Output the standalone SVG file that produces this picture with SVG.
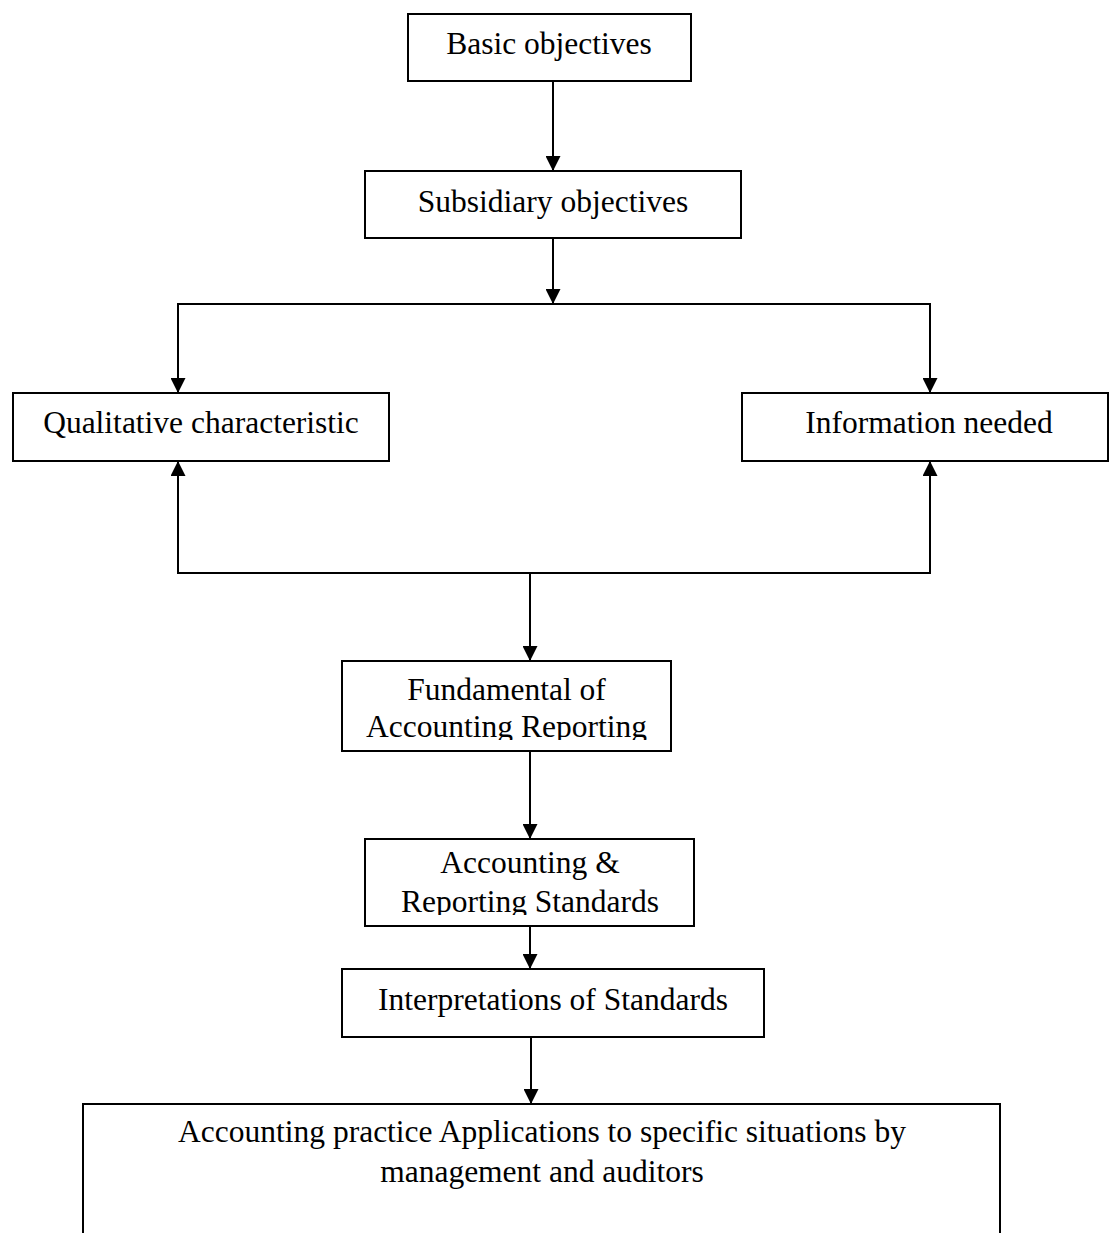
<svg xmlns="http://www.w3.org/2000/svg" width="1110" height="1233" viewBox="0 0 1110 1233">
<style>
.box{fill:#fff;stroke:#000;stroke-width:2}
.t{font-family:"Liberation Serif","Times New Roman",serif;font-size:31.5px;fill:#000;text-anchor:middle}
.c{fill:none;stroke:#000;stroke-width:2}
</style>
<defs>
<marker id="ah" viewBox="0 0 10 10" refX="10" refY="5" markerWidth="15" markerHeight="15" markerUnits="userSpaceOnUse" orient="auto">
<path d="M0,0 L10,5 L0,10 Z" fill="#000"/>
</marker>
<clipPath id="clipF"><rect x="342" y="661" width="329" height="79"/></clipPath>
<clipPath id="clipA"><rect x="365" y="839" width="329" height="76"/></clipPath>
</defs>
<rect width="1110" height="1233" fill="#fff"/>
<g id="connectors">
<line class="c" x1="553" y1="81" x2="553" y2="171" marker-end="url(#ah)"/>
<line class="c" x1="553" y1="238" x2="553" y2="304" marker-end="url(#ah)"/>
<polyline class="c" points="178,393 178,304 930,304 930,393"/>
<line class="c" x1="178" y1="380" x2="178" y2="393" marker-end="url(#ah)"/>
<line class="c" x1="930" y1="380" x2="930" y2="393" marker-end="url(#ah)"/>
<polyline class="c" points="178,461 178,573 930,573 930,461"/>
<line class="c" x1="178" y1="480" x2="178" y2="461" marker-end="url(#ah)"/>
<line class="c" x1="930" y1="480" x2="930" y2="461" marker-end="url(#ah)"/>
<line class="c" x1="530" y1="573" x2="530" y2="661" marker-end="url(#ah)"/>
<line class="c" x1="530" y1="751" x2="530" y2="839" marker-end="url(#ah)"/>
<line class="c" x1="530" y1="926" x2="530" y2="969" marker-end="url(#ah)"/>
<line class="c" x1="531" y1="1037" x2="531" y2="1104" marker-end="url(#ah)"/>
</g>
<g id="basic">
<rect class="box" x="408" y="14" width="283" height="67"/>
<text class="t" x="549" y="54">Basic objectives</text>
</g>
<g id="subsidiary">
<rect class="box" x="365" y="171" width="376" height="67"/>
<text class="t" x="553" y="212">Subsidiary objectives</text>
</g>
<g id="qualitative">
<rect class="box" x="13" y="393" width="376" height="68"/>
<text class="t" x="201" y="433">Qualitative characteristic</text>
</g>
<g id="information">
<rect class="box" x="742" y="393" width="366" height="68"/>
<text class="t" x="929" y="433">Information needed</text>
</g>
<g id="fundamental">
<rect class="box" x="342" y="661" width="329" height="90"/>
<g clip-path="url(#clipF)">
<text class="t" x="506.5" y="700">Fundamental of</text>
<text class="t" x="506.5" y="737">Accounting Reporting</text>
</g>
</g>
<g id="standards">
<rect class="box" x="365" y="839" width="329" height="87"/>
<g clip-path="url(#clipA)">
<text class="t" x="530" y="873">Accounting &amp;</text>
<text class="t" x="530" y="912">Reporting Standards</text>
</g>
</g>
<g id="interpretations">
<rect class="box" x="342" y="969" width="422" height="68"/>
<text class="t" x="553" y="1010">Interpretations of Standards</text>
</g>
<g id="practice">
<path class="box" d="M83,1233 L83,1104 L1000,1104 L1000,1233"/>
<text class="t" x="542" y="1142">Accounting practice Applications to specific situations by</text>
<text class="t" x="542" y="1182">management and auditors</text>
</g>
</svg>
